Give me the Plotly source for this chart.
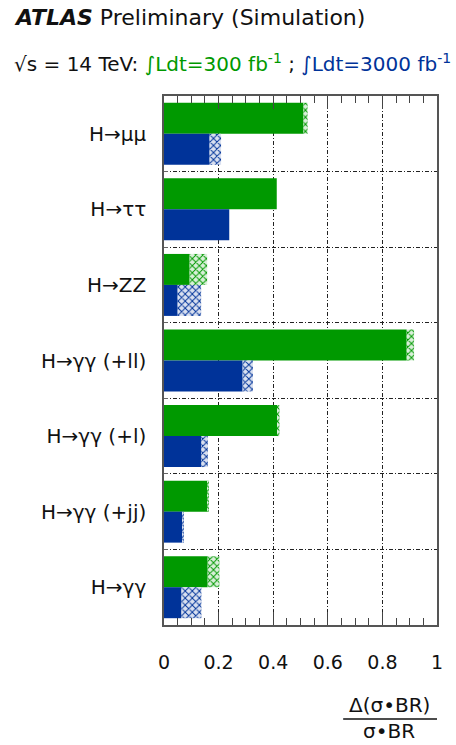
import plotly.graph_objects as go

# Channels, listed top to bottom
channels = ["H→μμ", "H→ττ", "H→ZZ", "H→γγ (+ll)", "H→γγ (+l)", "H→γγ (+jj)", "H→γγ"]

# Relative precision on sigma*BR: lower value (solid) and upper value (hatched end)
lumi300_low = [0.511, 0.413, 0.094, 0.889, 0.416, 0.160, 0.160]
lumi300_high = [0.526, 0.413, 0.158, 0.916, 0.423, 0.164, 0.203]
lumi3000_low = [0.167, 0.239, 0.050, 0.288, 0.137, 0.068, 0.064]
lumi3000_high = [0.209, 0.239, 0.136, 0.326, 0.161, 0.072, 0.137]

x_ticks = [0, 0.2, 0.4, 0.6, 0.8, 1]
x_ticklabels = ["0", "0.2", "0.4", "0.6", "0.8", "1"]

GREEN = "#009900"
BLUE = "#003399"
FONT = "DejaVu Sans, Liberation Sans, Arial, sans-serif"
TXT = "#111111"
GRID_DASH = "4px,2px,1px,2px"

W, H = 456, 745
ML, MR, MT, MB = 163.5, 19, 96, 120
PW, PH = W - ML - MR, H - MT - MB


def px_x(p):
    return (p - ML) / PW


def px_y(p):
    return (H - MB - p) / PH


fig = go.Figure()


def add_pair(low, high, color, light, group):
    fig.add_trace(go.Bar(
        y=channels, x=low, orientation="h", offsetgroup=group,
        marker=dict(color=color, line=dict(width=0)),
        showlegend=False, hoverinfo="skip",
    ))
    fig.add_trace(go.Bar(
        y=channels, x=[h - l for h, l in zip(high, low)], base=low,
        orientation="h", offsetgroup=group,
        marker=dict(
            color="white", line=dict(width=0),
            pattern=dict(shape="x", fgcolor=color, bgcolor=light,
                         size=5, solidity=0.35, fillmode="replace"),
        ),
        showlegend=False, hoverinfo="skip",
    ))


add_pair(lumi300_low, lumi300_high, GREEN, "#d9efd9", "a")
add_pair(lumi3000_low, lumi3000_high, BLUE, "#d9e0f0", "b")

fig.update_layout(
    width=W, height=H,
    margin=dict(l=ML, r=MR, t=MT, b=MB, pad=0),
    paper_bgcolor="white", plot_bgcolor="white",
    barmode="group", bargap=0.18, bargroupgap=0,
    font=dict(family=FONT, color=TXT),
    xaxis=dict(
        range=[0, 1], tickvals=x_ticks, ticktext=x_ticklabels,
        ticks="inside", ticklen=13, tickcolor="#444444", tickwidth=1,
        mirror="allticks", showline=True, linecolor="#555555", linewidth=1.5,
        showgrid=True, gridcolor="#222222", gridwidth=1, griddash=GRID_DASH,
        tickfont=dict(size=19, family=FONT, color=TXT),
        ticklabelstandoff=19, zeroline=False,
        minor=dict(dtick=0.05, tick0=0, ticks="inside", ticklen=7,
                   tickcolor="#444444", tickwidth=1, showgrid=False),
    ),
    yaxis=dict(
        type="category", categoryorder="array", categoryarray=channels,
        autorange="reversed", tickson="boundaries",
        ticks="inside", ticklen=4, tickcolor="#666666",
        showline=True, mirror=True, linecolor="#555555", linewidth=1.5,
        showgrid=True, gridcolor="#222222", gridwidth=1, griddash=GRID_DASH,
        tickfont=dict(size=20, family=FONT, color=TXT),
        ticklabelstandoff=12, zeroline=False,
    ),
)

fig.add_annotation(
    xref="paper", yref="paper", x=px_x(11), y=px_y(18),
    xanchor="left", yanchor="middle", showarrow=False,
    text="<b><i>ATLAS</i></b> Preliminary (Simulation)",
    font=dict(size=22, family=FONT, color=TXT),
)
fig.add_annotation(
    xref="paper", yref="paper", x=px_x(11), y=px_y(63),
    xanchor="left", yanchor="middle", showarrow=False,
    text=("√s = 14 TeV: "
          f"<span style='color:{GREEN}'>∫Ldt=300 fb<sup>-1</sup></span> ; "
          f"<span style='color:{BLUE}'>∫Ldt=3000 fb<sup>-1</sup></span>"),
    font=dict(size=20, family=FONT, color=TXT),
)

# Axis title drawn as a fraction
fig.add_annotation(
    xref="paper", yref="paper", x=px_x(389), y=px_y(705),
    xanchor="center", yanchor="middle", showarrow=False,
    text="Δ(σ•BR)", font=dict(size=20, family=FONT, color=TXT),
)
fig.add_annotation(
    xref="paper", yref="paper", x=px_x(389), y=px_y(731),
    xanchor="center", yanchor="middle", showarrow=False,
    text="σ•BR", font=dict(size=20, family=FONT, color=TXT),
)
fig.add_shape(
    type="line", xref="paper", yref="paper",
    x0=px_x(343), x1=px_x(437), y0=px_y(719), y1=px_y(719),
    line=dict(color=TXT, width=1.5),
)

fig.write_html("out.html")
